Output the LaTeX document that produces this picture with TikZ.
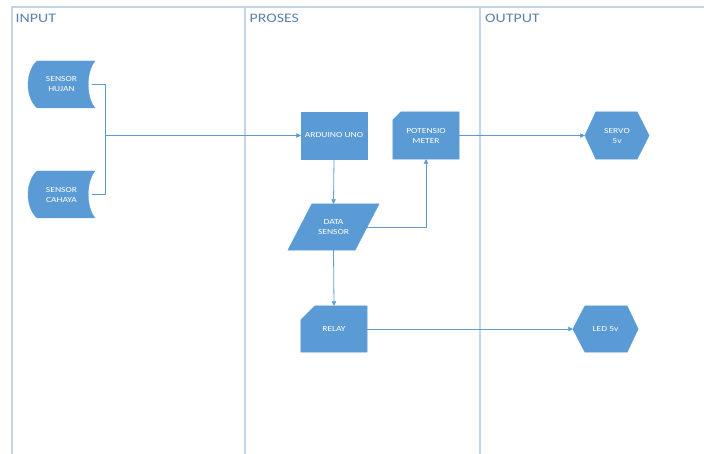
\documentclass[tikz,border=0pt]{standalone}
\usepackage{fontspec}
\setmainfont{Carlito}[FakeStretch=1.22]
\usetikzlibrary{arrows.meta,backgrounds}

\definecolor{boxblue}{HTML}{5B9BD5}
\definecolor{lineblue}{HTML}{5B9BD5}
\definecolor{lanegray}{HTML}{C4D4E8}
\definecolor{titleblue}{HTML}{5A80AC}

\tikzset{
  box/.style={rectangle, inner sep=0pt, text=white, align=center,
    font=\fontsize{7.8}{10}\selectfont},
  shapefill/.style={fill=boxblue, draw=boxblue, line width=0.3pt},
  flow/.style={draw=lineblue, line width=0.8pt},
  arrow/.style={flow, -{Triangle[length=4.5pt,width=4.5pt]}},
  lane/.style={draw=lanegray, line width=1.5pt},
  lanetitle/.style={anchor=west, text=titleblue, inner sep=0pt,
    font=\fontsize{13}{13}\selectfont},
}

% stored-data outline: convex left side, concave right side
\newcommand\storedshape[1]{%
  \path[shapefill, shift={(#1.center)}]
    (-24.5,-23.5) -- (33.5,-23.5)
    .. controls (24.5,-12.5) and (24.5,12.5) .. (33.5,23.5)
    -- (-24.5,23.5)
    .. controls (-36.5,12.5) and (-36.5,-12.5) .. (-24.5,-23.5) -- cycle;}
% rectangle with a clipped top-left corner
\newcommand\cardshape[2]{%
  \path[shapefill]
    ([xshift=#2pt]#1.north west) -- (#1.north east) -- (#1.south east)
    -- (#1.south west) -- ([yshift=-#2pt]#1.north west) -- cycle;}
% hexagon spanning the node, with the given inset of the top edge
\newcommand\hexshape[3]{%
  \path[shapefill]
    (#1.west) -- ([xshift=#2pt]#1.north west) -- ([xshift=-#3pt]#1.north east)
    -- (#1.east) -- ([xshift=-#3pt]#1.south east) -- ([xshift=#2pt]#1.south west)
    -- cycle;}

\begin{document}
\begin{tikzpicture}[x=1pt,y=-1pt]
\useasboundingbox (0,0) rectangle (704,454);

% lane titles
\node[lanetitle] (tin)  at (15.5,18.5) {INPUT};
\node[lanetitle] (tpro) at (249.5,18.5) {PROSES};
\node[lanetitle] (tout) at (485,18.5) {OUTPUT};

% process nodes
\node[box, minimum width=67pt, minimum height=47pt] (hujan)  at (61.5,84.5)  {SENSOR\\HUJAN};
\node[box, minimum width=67pt, minimum height=47pt] (cahaya) at (61.5,194.5) {SENSOR\\CAHAYA};
\node[box, minimum width=66pt, minimum height=47pt] (arduino)  at (334,135.5) {ARDUINO UNO};
\node[box, minimum width=66pt, minimum height=47pt] (potensio) at (426,135.5) {POTENSIO\\METER};
\node[box, minimum width=67pt, minimum height=46pt] (data)   at (333.5,227) {DATA\\SENSOR};
\node[box, minimum width=66pt, minimum height=46pt] (relay)  at (334,329) {RELAY};
\node[box, minimum width=64pt, minimum height=47pt] (servo)  at (617,135.5) {SERVO\\5v};
\node[box, minimum width=65pt, minimum height=46pt] (led)    at (605.5,329) {LED 5v};

\coordinate (jn) at (105,135.5);

\begin{pgfonlayer}{background}
  % swimlane frame
  \draw[lane] (12,454) -- (12,7) -- (704,7);
  \draw[lane] (245,7) -- (245,454);
  \draw[lane] (480,7) -- (480,454);
  % shape bodies
  \storedshape{hujan}
  \storedshape{cahaya}
  \path[shapefill] (arduino.north west) rectangle (arduino.south east);
  \cardshape{potensio}{8}
  \cardshape{relay}{14}
  \path[shapefill] ([xshift=12pt]data.north west) -- ([xshift=12pt]data.north east)
    -- ([xshift=-12pt]data.south east) -- ([xshift=-12pt]data.south west) -- cycle;
  \hexshape{servo}{11}{12}
  \hexshape{led}{12}{11}
\end{pgfonlayer}

% connectors
\draw[flow] ([xshift=-3pt]hujan.east) -| (jn);
\draw[flow] ([xshift=-3pt]cahaya.east) -| (jn);
\draw[arrow] (jn) -- (arduino.west);
\draw[arrow] (arduino.south) -- (data.north);
\draw[arrow] (data.east) -| (potensio.south);
\draw[arrow] (data.south) -- (relay.north);
\draw[arrow] (potensio.east) -- (servo.west);
\draw[arrow] (relay.east) -- (led.west);
\end{tikzpicture}
\end{document}
